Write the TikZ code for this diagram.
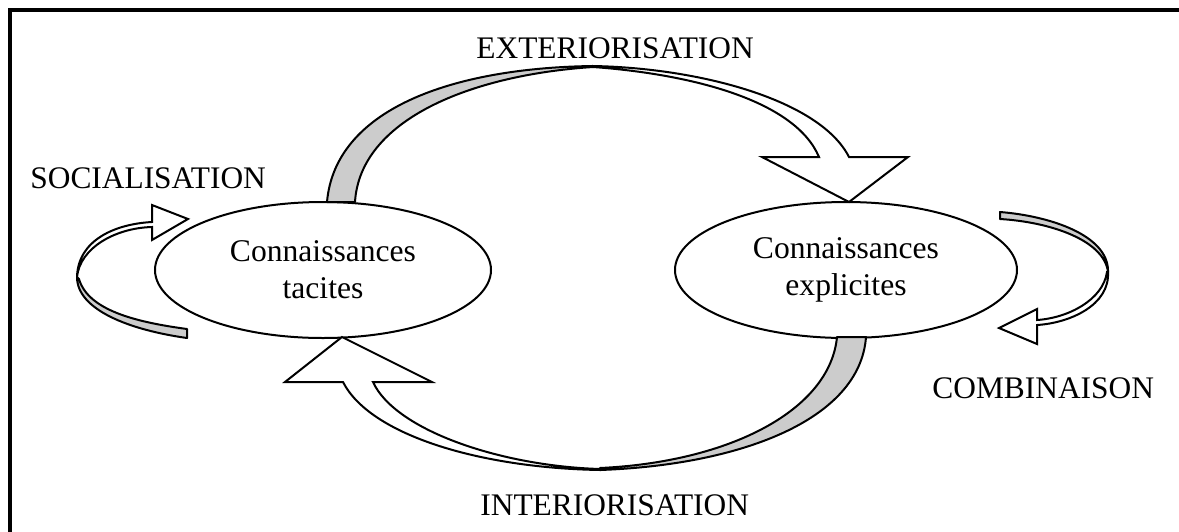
\documentclass[tikz,border=0pt]{standalone}
\usepackage{fontspec}
\setmainfont{Liberation Serif}
\usetikzlibrary{shapes.geometric}
\begin{document}
\begin{tikzpicture}[x=0.5pt,y=-0.5pt,
  lbl/.style={inner sep=0pt, font=\fontsize{15.7}{18.5}\selectfont},
  knot/.style={draw, line width=1pt, ellipse, align=center, inner sep=0pt, font=\fontsize{15.8}{18.5}\selectfont},
  ribback/.style={draw, line width=1pt, fill=gray!40, line join=round},
  ribfront/.style={draw, line width=1pt, fill=white, line join=miter}]
\useasboundingbox (0,0) rectangle (1179,531);
\clip (0,0) rectangle (1179,531);
\draw[line width=2pt] (9.5,10.3) rectangle (1400,700);

% knowledge ellipses
\node[knot, minimum width=168pt, minimum height=68pt] (tac) at (323,270) {Connaissances\\tacites};
\node[knot, minimum width=171pt, minimum height=68pt] (exp) at (846,270) {Connaissances\\explicites};

% labels
\node[lbl, anchor=base west] (soc) at (30,188) {SOCIALISATION};
\node[lbl, anchor=base west] (ext) at (476,58) {EXTERIORISATION};
\node[lbl, anchor=base west] (int) at (480,515) {INTERIORISATION};
\node[lbl, anchor=base west] (comb) at (932,398) {COMBINAISON};

% EXTERIORISATION ribbon
\draw[ribback] (327,202) .. controls (335,110) and (450,68) .. (593,66) -- (593,67) .. controls (470,75) and (360,120) .. (355,202) -- cycle;
\draw[ribfront] (593,66) .. controls (700,68) and (820,100) .. (849,157) -- (908,157) -- (849,202) -- (762,157) -- (819,157) .. controls (795,100) and (690,74) .. (593,67) -- cycle;

% INTERIORISATION ribbon
\draw[ribback] (866,337) .. controls (860,420) and (740,465) .. (600,470) -- (600,468) .. controls (730,462) and (830,410) .. (837,337) -- cycle;
\draw[ribfront] (600,470) .. controls (480,468) and (370,435) .. (343,382) -- (285,382) -- (342,337) -- (432,382) -- (373,382) .. controls (395,430) and (500,466) .. (600,469) -- cycle;

% SOCIALISATION ribbon
\draw[ribback] (77,277) .. controls (77,310) and (130,330) .. (187,338) -- (187,329) .. controls (135,322) and (88,310) .. (79,279) -- cycle;
\draw[ribfront] (77,277) .. controls (78,240) and (115,224) .. (152,222) -- (152,205) -- (188,219) -- (152,240) -- (152,227) .. controls (115,228) and (80,248) .. (77,277) -- cycle;

% COMBINAISON ribbon
\draw[ribback] (1000,212) .. controls (1050,216) and (1107,235) .. (1108,270) -- (1108,272) .. controls (1104,240) and (1050,222) .. (1000,219) -- cycle;
\draw[ribfront] (1108,272) .. controls (1110,305) and (1070,323) .. (1037,325) -- (1037,344) -- (999,328) -- (1037,309) -- (1037,320) .. controls (1068,318) and (1103,300) .. (1107,272) -- cycle;
\end{tikzpicture}
\end{document}
